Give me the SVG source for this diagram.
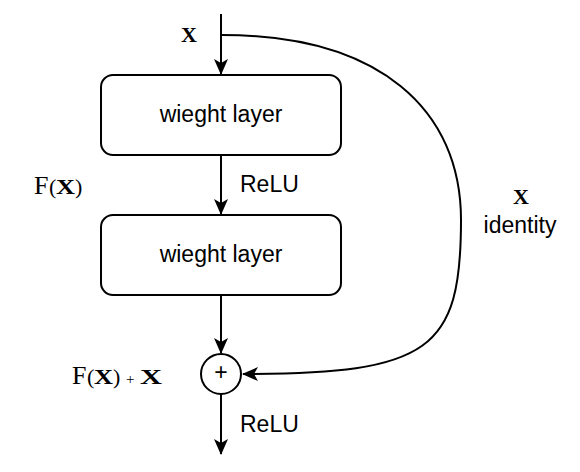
<svg xmlns="http://www.w3.org/2000/svg" width="580" height="472" viewBox="0 0 580 472">
<defs>
<style>
.box{fill:#fff;stroke:#000;stroke-width:2}
.ln{fill:none;stroke:#000;stroke-width:2}
.sans{font-family:"Liberation Sans",Arial,sans-serif;font-size:23px;fill:#000}
.serif{font-family:"Liberation Serif","Times New Roman",serif;fill:#000}
</style>
<marker id="ah" viewBox="0 0 16 14" refX="15" refY="7" markerWidth="16" markerHeight="14" markerUnits="userSpaceOnUse" orient="auto">
<path d="M0,0 L16,7 L0,14 L4,7 Z" fill="#000"/>
</marker>
</defs>
<rect width="580" height="472" fill="#fff"/>
<g id="connectors">
<line class="ln" x1="221" y1="14" x2="221" y2="74" marker-end="url(#ah)"/>
<line class="ln" x1="221" y1="155" x2="221" y2="214" marker-end="url(#ah)"/>
<line class="ln" x1="221" y1="295" x2="221" y2="353" marker-end="url(#ah)"/>
<line class="ln" x1="221" y1="394" x2="221" y2="454" marker-end="url(#ah)"/>
<path class="ln" d="M222,35 C380,35 461,110 461,220 C461,350 430,374 243,374" marker-end="url(#ah)"/>
</g>
<g id="layer1">
<rect class="box" x="101" y="75" width="240" height="80" rx="12"/>
<text class="sans" x="221" y="122" text-anchor="middle">wieght layer</text>
</g>
<g id="layer2">
<rect class="box" x="101" y="215" width="240" height="80" rx="12"/>
<text class="sans" x="221" y="262" text-anchor="middle">wieght layer</text>
</g>
<g id="sum">
<circle cx="221" cy="374" r="20" fill="#fff" stroke="#000" stroke-width="2"/>
<text class="sans" x="221" y="380" text-anchor="middle" font-size="18">+</text>
</g>
<g id="labels">
<text class="serif" x="181" y="42" font-size="22" font-weight="bold">X</text>
<text class="sans" x="240" y="192">ReLU</text>
<text class="sans" x="240" y="432">ReLU</text>
<text class="serif" x="34" y="194" font-size="26">F</text>
<text class="serif" x="49" y="194" font-size="22">(</text>
<text class="serif" x="56" y="194" font-size="22" font-weight="bold" textLength="19" lengthAdjust="spacingAndGlyphs">X</text>
<text class="serif" x="75" y="194" font-size="22">)</text>
<text class="serif" x="72" y="384" font-size="26">F</text>
<text class="serif" x="87" y="384" font-size="22">(</text>
<text class="serif" x="94" y="384" font-size="22" font-weight="bold" textLength="19" lengthAdjust="spacingAndGlyphs">X</text>
<text class="serif" x="113" y="384" font-size="22">)</text>
<text class="serif" x="126" y="384" font-size="15" fill="#555">+</text>
<text class="serif" x="140" y="384" font-size="22" font-weight="bold" textLength="22" lengthAdjust="spacingAndGlyphs">X</text>
<text class="serif" x="521" y="204" font-size="22" font-weight="bold" text-anchor="middle">X</text>
<text class="sans" x="520" y="233" text-anchor="middle">identity</text>
</g>
</svg>
